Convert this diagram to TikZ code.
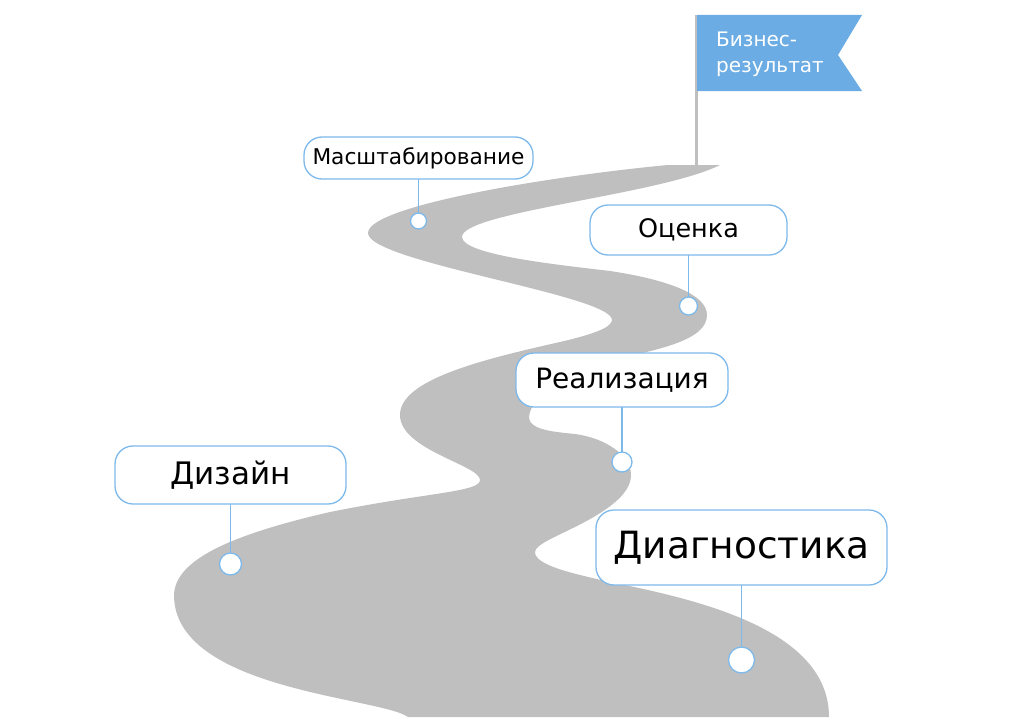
\documentclass[tikz,border=0pt]{standalone}
\usepackage{fontspec}
\setmainfont{DejaVu Sans}
\usepackage{tikz}
\usetikzlibrary{positioning}
\definecolor{roadgray}{HTML}{BFBFBF}
\definecolor{flagblue}{HTML}{6AACE3}
\definecolor{stemblue}{HTML}{7DB9EA}
\newcommand{\fsize}[1]{\fontsize{#1}{#1}\selectfont}

\begin{document}
\begin{tikzpicture} [x=1pt,y=-1pt,
    stage/.style={draw=stemblue,fill=white,rounded corners=18pt,line width=1.3pt,inner sep=0pt,outer sep=0pt,text=black},
    stop/.style={circle,draw=stemblue,fill=white,line width=1.3pt,inner sep=0pt,outer sep=0pt},
    stem/.style={draw=stemblue,line width=1.3pt}]

  \useasboundingbox (0,0) rectangle (1024,717);

  % road
  \path[fill=roadgray] (408,717)
    .. controls (380,697) and (174,690) .. (174,595)
    .. controls (175,560) and (230,535) .. (330,512)
    .. controls (430,492) and (480,492) .. (480,480)
    .. controls (480,465) and (400,450) .. (400,415)
    .. controls (400,380) and (480,360) .. (560,342)
    .. controls (590,335) and (612,328) .. (612,320)
    .. controls (612,295) and (368,262) .. (368,233)
    .. controls (368,205) and (560,175) .. (668,165)
    -- (720,165)
    .. controls (660,195) and (462,212) .. (462,237)
    .. controls (462,255) and (560,265) .. (610,271)
    .. controls (670,280) and (707,295) .. (707,315)
    .. controls (707,340) and (660,350) .. (600,362)
    .. controls (560,372) and (529,400) .. (529,418)
    .. controls (530,430) and (555,432) .. (575,434)
    .. controls (605,438) and (631,455) .. (631,475)
    .. controls (631,495) and (605,512) .. (575,527)
    .. controls (555,537) and (535,545) .. (535,552)
    .. controls (535,565) and (570,573) .. (610,582)
    .. controls (700,600) and (829,630) .. (829,717)
    -- cycle;

  % flag
  \draw[roadgray,line width=3pt] (696,15) -- (696,165);
  \fill[flagblue] (697,15) -- (862,15) -- (838,55) -- (862,91) -- (697,91) -- cycle;
  \node[inner sep=0pt,anchor=west,align=left,text=white,font=\fsize{20}] (goal) at (716,54) {Бизнес-\\[6pt]результат};

  \node[stage,minimum width=291pt,minimum height=75pt,font=\fsize{37.5}] (diag) at (741.5,547.5) {Диагностика};
  \node[stage,minimum width=231pt,minimum height=58pt,font=\fsize{31}] (design) at (230.5,475) {Дизайн};
  \node[stage,minimum width=212pt,minimum height=54pt,font=\fsize{28}] (impl) at (622,380) {Реализация};
  \node[stage,minimum width=197pt,minimum height=50pt,font=\fsize{25.5}] (eval) at (688.5,230) {Оценка};
  \node[stage,minimum width=229pt,minimum height=42pt,font=\fsize{21.7}] (scale) at (418.5,158) {Масштабирование};

  \node[stop,minimum size=26pt,below=62pt of diag] (diagdot) {};
  \node[stop,minimum size=22pt,below=49pt of design] (designdot) {};
  \node[stop,minimum size=20pt,below=45pt of impl] (impldot) {};
  \node[stop,minimum size=18pt,below=42pt of eval] (evaldot) {};
  \node[stop,minimum size=16pt,below=34pt of scale] (scaledot) {};

  \draw[stem] (diag) -- (diagdot);
  \draw[stem] (design) -- (designdot);
  \draw[stem] (impl) -- (impldot);
  \draw[stem] (eval) -- (evaldot);
  \draw[stem] (scale) -- (scaledot);

\end{tikzpicture}
\end{document}
